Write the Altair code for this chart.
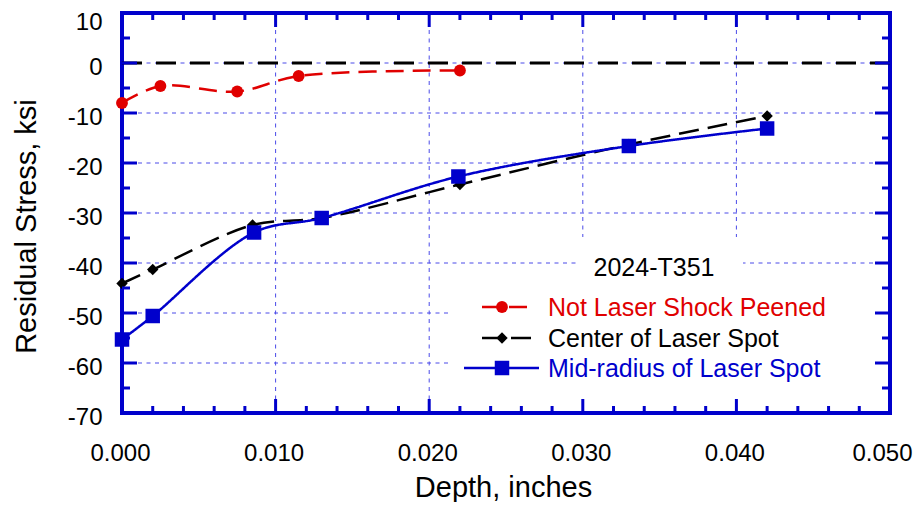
import altair as alt
import pandas as pd

# ---------------- data ----------------
series_names = ["Not Laser Shock Peened", "Center of Laser Spot", "Mid-radius of Laser Spot"]
series_colors = ["#e00000", "#000000", "#0000cc"]
series_shapes = ["circle", "diamond", "square"]
series_dash = [[18, 9], [20, 9], [1, 0]]
series_sizes = [140, 130, 210]
series_widths = [2.5, 2.5, 2.5]

depth_nlsp = [0.0, 0.0025, 0.0075, 0.0115, 0.022]
stress_nlsp = [-8.0, -4.6, -5.7, -2.6, -1.5]

depth_center = [0.0, 0.002, 0.0085, 0.013, 0.022, 0.033, 0.042]
stress_center = [-44.1, -41.3, -32.4, -31.0, -24.3, -16.3, -10.6]

depth_mid = [0.0, 0.002, 0.0086, 0.013, 0.0219, 0.033, 0.042]
stress_mid = [-55.3, -50.6, -33.9, -31.0, -22.7, -16.6, -13.1]

legend_title = "2024-T351"
x_title = "Depth, inches"
y_title = "Residual Stress, ksi"

x_major = [0.0, 0.01, 0.02, 0.03, 0.04, 0.05]
x_minor = [0.002, 0.004, 0.006, 0.008, 0.012, 0.014, 0.016, 0.018,
           0.022, 0.024, 0.026, 0.028, 0.032, 0.034, 0.036, 0.038,
           0.042, 0.044, 0.046, 0.048]
x_grid = [0.01, 0.02, 0.03, 0.04]
y_major = [-70, -60, -50, -40, -30, -20, -10, 0, 10]
y_minor = [-65, -55, -45, -35, -25, -15, -5, 5]
y_grid = [-60, -50, -40, -30, -20, -10, 0]
zero_line = [0]

# ---------------- style ----------------
W, H = 768, 400
AXIS_BLUE = "#0000cc"
GRID_BLUE = "#4a4ae8"
FONT = "Liberation Sans"

x_scale = alt.Scale(domain=[0, 0.05], nice=False, zero=False)
y_scale = alt.Scale(domain=[-70, 10], nice=False, zero=False)

x_axis = alt.Axis(values=x_major, format=".3f", grid=False, domain=False, ticks=False,
                  tickSize=0, labelPadding=28, labelFontSize=24, labelFont=FONT,
                  labelColor="black",
                  labelOffset={"condition": {"test": "datum.value >= 0.05", "value": -8}, "value": -2},
                  labelFlush=False, labelOverlap=False,
                  title=x_title, titleFontSize=29, titleFont=FONT, titleFontWeight="normal",
                  titleColor="black", titleX=381, titleY=83, titleBaseline="alphabetic",
                  titleAlign="center")
y_axis = alt.Axis(values=y_major, labelExpr="datum.value + ''", grid=False, domain=False,
                  ticks=False, tickSize=0, labelPadding=20, labelFontSize=24, labelFont=FONT,
                  labelColor="black",
                  labelOffset={"condition": {"test": "datum.value >= 10", "value": 9}, "value": 4},
                  labelFlush=False, labelOverlap=False,
                  title=y_title, titleFontSize=29, titleFont=FONT, titleFontWeight="normal",
                  titleColor="black", titleX=-87, titleY=213, titleAngle=270,
                  titleBaseline="alphabetic", titleAlign="center")


def X(f):
    return alt.X(f, type="quantitative", scale=x_scale, axis=x_axis)


def Y(f):
    return alt.Y(f, type="quantitative", scale=y_scale, axis=y_axis)


one = pd.DataFrame({"k": [0]})
layers = []

# grid lines
layers.append(alt.Chart(pd.DataFrame({"v": x_grid})).mark_rule(
    color=GRID_BLUE, strokeWidth=1, strokeDash=[4, 4.5]).encode(x=X("v")))
layers.append(alt.Chart(pd.DataFrame({"v": y_grid})).mark_rule(
    color=GRID_BLUE, strokeWidth=1, strokeDash=[4, 4.5]).encode(y=Y("v")))

# white boxes behind legend title and legend
layers.append(alt.Chart(one).mark_rect(color="white").encode(
    x=alt.value(455), x2=alt.value(621), y=alt.value(224), y2=alt.value(277)))
layers.append(alt.Chart(one).mark_rect(color="white").encode(
    x=alt.value(326), x2=alt.value(766), y=alt.value(272), y2=alt.value(398)))

# zero reference line
layers.append(alt.Chart(pd.DataFrame({"v": zero_line})).mark_rule(
    color="black", strokeWidth=3, strokeDash=[20, 14]).encode(y=Y("v")))

# series
series_data = [(depth_nlsp, stress_nlsp), (depth_center, stress_center), (depth_mid, stress_mid)]
for i, (dx, dy) in enumerate(series_data):
    df = pd.DataFrame({"depth": dx, "stress": dy})
    base = alt.Chart(df)
    layers.append(base.mark_line(color=series_colors[i], strokeWidth=series_widths[i],
                                 strokeDash=series_dash[i], interpolate="catmull-rom")
                  .encode(x=X("depth"), y=Y("stress")))
    layers.append(base.mark_point(filled=True, opacity=1, shape=series_shapes[i],
                                  size=series_sizes[i], color=series_colors[i], strokeWidth=0)
                  .encode(x=X("depth"), y=Y("stress")))

# legend
layers.append(alt.Chart(pd.DataFrame({"t": [legend_title]})).mark_text(
    font=FONT, fontSize=25, color="black", align="center", baseline="middle").encode(
    text="t:N", x=alt.value(532), y=alt.value(255)))
leg_y = [295, 326, 356]
leg_x0 = [360, 360, 342]
leg_x1 = [413, 413, 417]
for i, name in enumerate(series_names):
    layers.append(alt.Chart(one).mark_rule(color=series_colors[i], strokeWidth=2.5,
                                           strokeDash=series_dash[i]).encode(
        x=alt.value(leg_x0[i]), x2=alt.value(leg_x1[i]), y=alt.value(leg_y[i] - 1)))
    layers.append(alt.Chart(one).mark_point(filled=True, opacity=1, shape=series_shapes[i],
                                            size=series_sizes[i], color=series_colors[i],
                                            strokeWidth=0).encode(
        x=alt.value(380), y=alt.value(leg_y[i] - 1)))
    layers.append(alt.Chart(pd.DataFrame({"t": [name]})).mark_text(
        font=FONT, fontSize=25, color=series_colors[i], align="left", baseline="middle").encode(
        text="t:N", x=alt.value(426), y=alt.value(leg_y[i])))

# inward tick marks
TW = 3
layers.append(alt.Chart(pd.DataFrame({"v": x_major})).mark_rule(color=AXIS_BLUE, strokeWidth=TW)
              .encode(x=X("v"), y=alt.value(H), y2=alt.value(H - 14)))
layers.append(alt.Chart(pd.DataFrame({"v": x_major})).mark_rule(color=AXIS_BLUE, strokeWidth=TW)
              .encode(x=X("v"), y=alt.value(0), y2=alt.value(14)))
layers.append(alt.Chart(pd.DataFrame({"v": x_minor})).mark_rule(color=AXIS_BLUE, strokeWidth=TW)
              .encode(x=X("v"), y=alt.value(H), y2=alt.value(H - 7)))
layers.append(alt.Chart(pd.DataFrame({"v": x_minor})).mark_rule(color=AXIS_BLUE, strokeWidth=TW)
              .encode(x=X("v"), y=alt.value(0), y2=alt.value(7)))
layers.append(alt.Chart(pd.DataFrame({"v": y_major})).mark_rule(color=AXIS_BLUE, strokeWidth=TW)
              .encode(y=Y("v"), x=alt.value(0), x2=alt.value(15)))
layers.append(alt.Chart(pd.DataFrame({"v": y_major})).mark_rule(color=AXIS_BLUE, strokeWidth=TW)
              .encode(y=Y("v"), x=alt.value(W), x2=alt.value(W - 15)))
layers.append(alt.Chart(pd.DataFrame({"v": y_minor})).mark_rule(color=AXIS_BLUE, strokeWidth=TW)
              .encode(y=Y("v"), x=alt.value(0), x2=alt.value(8)))
layers.append(alt.Chart(pd.DataFrame({"v": y_minor})).mark_rule(color=AXIS_BLUE, strokeWidth=TW)
              .encode(y=Y("v"), x=alt.value(W), x2=alt.value(W - 8)))

chart = alt.layer(*layers).properties(
    width=W, height=H,
    padding={"left": 114, "top": 5, "right": 24, "bottom": 89},
    autosize=alt.AutoSizeParams(type="none"),
    background="white",
).configure_view(stroke=AXIS_BLUE, strokeWidth=4)

chart.save("out.html", embed_options={"renderer": "svg", "actions": False})
